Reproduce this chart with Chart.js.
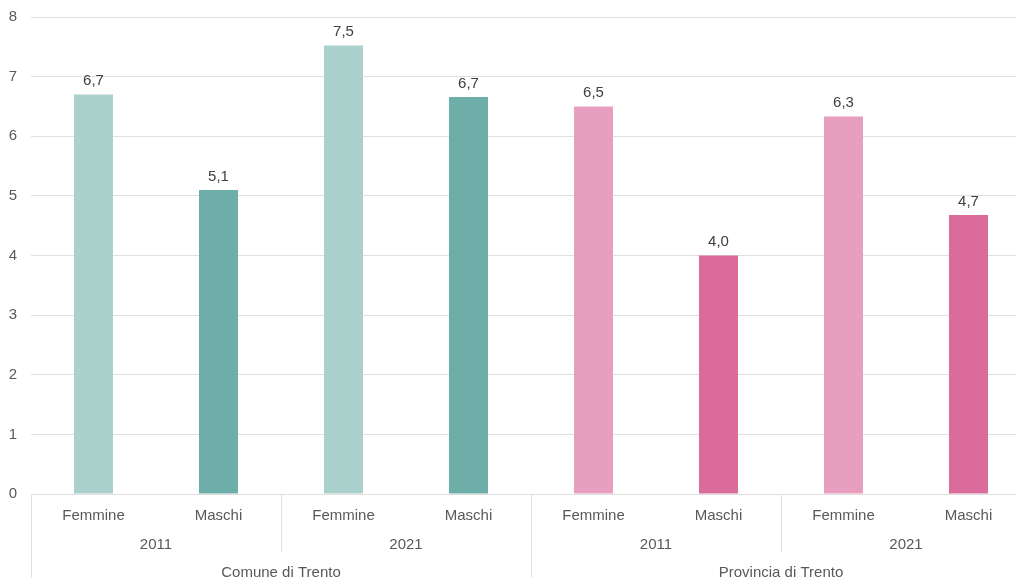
<!DOCTYPE html>
<html>
<head>
<meta charset="utf-8">
<script src="https://cdn.jsdelivr.net/npm/chart.js@4/dist/chart.umd.min.js"></script>
<style>
    html, body { margin: 0; padding: 0; background: #fff; overflow: hidden; }
    #wrap { position: relative; width: 1031px; height: 580px; }
</style>
</head>
<body>
<div id="wrap"><canvas id="chart"></canvas></div>
<script>
    const categories = ['Femmine', 'Maschi', 'Femmine', 'Maschi', 'Femmine', 'Maschi', 'Femmine', 'Maschi'];
    const years = ['2011', '2021', '2011', '2021'];
    const areas = ['Comune di Trento', 'Provincia di Trento'];
    const values = [6.7, 5.1, 7.52, 6.66, 6.5, 4.0, 6.33, 4.68];
    const yTicks = [0, 1, 2, 3, 4, 5, 6, 7, 8];

    const barColors = ['#abd1cd', '#6daea8', '#abd1cd', '#6daea8', '#e79ebf', '#db6b9b', '#e79ebf', '#db6b9b'];
    const font = { family: '"Liberation Sans", Arial, sans-serif', size: 15 };
    const gridColor = '#e0e0e0';

    const fmt = (v) => v.toFixed(1).replace('.', ',');

    // value labels above bars
    const valueLabels = {
        id: 'valueLabels',
        afterDatasetsDraw(chart) {
            const ctx = chart.ctx;
            const meta = chart.getDatasetMeta(0);
            ctx.save();
            ctx.font = `15px ${font.family}`;
            ctx.fillStyle = '#404040';
            ctx.textAlign = 'center';
            ctx.textBaseline = 'bottom';
            meta.data.forEach((bar, i) => {
                ctx.fillText(fmt(values[i]), bar.x, bar.y - 6);
            });
            ctx.restore();
        },
    };

    // separators between year / area groups under the axis
    const groupLines = {
        id: 'groupLines',
        afterDraw(chart) {
            const ctx = chart.ctx;
            const x = chart.scales.x;
            const x2 = chart.scales.x2;
            const top = chart.chartArea.bottom;
            const half = (x.getPixelForValue(1) - x.getPixelForValue(0)) / 2;
            ctx.save();
            ctx.strokeStyle = gridColor;
            ctx.lineWidth = 1;
            for (let i = 0; i < categories.length; i += 2) {
                const px = Math.round(x.getPixelForValue(i) - half) + 0.5;
                const bottom = i % 4 === 0 ? chart.height : x2.bottom;
                ctx.beginPath();
                ctx.moveTo(px, top);
                ctx.lineTo(px, bottom);
                ctx.stroke();
            }
            ctx.restore();
        },
    };

    const fixHeight = (h) => (scale) => {
        scale.height = h;
    };

    new Chart(document.getElementById('chart'), {
        type: 'bar',
        data: {
            labels: categories,
            datasets: [
                {
                    data: values,
                    backgroundColor: barColors,
                    borderWidth: 0,
                    barPercentage: 0.312,
                    categoryPercentage: 1,
                },
            ],
        },
        options: {
            responsive: true,
            maintainAspectRatio: false,
            animation: false,
            layout: {
                padding: { top: 17, left: 0, right: 0, bottom: 0 },
            },
            plugins: {
                legend: { display: false },
                tooltip: { enabled: false },
            },
            scales: {
                y: {
                    min: 0,
                    max: 8,
                    afterBuildTicks: (scale) => {
                        scale.ticks = yTicks.map((v) => ({ value: v }));
                    },
                    afterFit: (scale) => {
                        scale.width = 31;
                        scale.paddingTop = 0;
                        scale.paddingBottom = 0;
                    },
                    border: { display: false },
                    grid: { color: gridColor, drawTicks: false },
                    ticks: { color: '#595959', font, padding: 14 },
                },
                x: {
                    weight: 0,
                    afterFit: fixHeight(29),
                    border: { display: true, color: gridColor },
                    grid: { display: false, drawTicks: false },
                    ticks: { color: '#595959', font, padding: 13, maxRotation: 0, autoSkip: false },
                },
                x2: {
                    type: 'category',
                    position: 'bottom',
                    weight: 1,
                    labels: years,
                    offset: true,
                    afterFit: fixHeight(29),
                    border: { display: false },
                    grid: { display: false, drawTicks: false },
                    ticks: { color: '#595959', font, padding: 13, maxRotation: 0, autoSkip: false },
                },
                x3: {
                    type: 'category',
                    position: 'bottom',
                    weight: 2,
                    labels: areas,
                    offset: true,
                    afterFit: fixHeight(28),
                    border: { display: false },
                    grid: { display: false, drawTicks: false },
                    ticks: { color: '#595959', font, padding: 12, maxRotation: 0, autoSkip: false },
                },
            },
        },
        plugins: [valueLabels, groupLines],
    });
</script>
</body>
</html>
